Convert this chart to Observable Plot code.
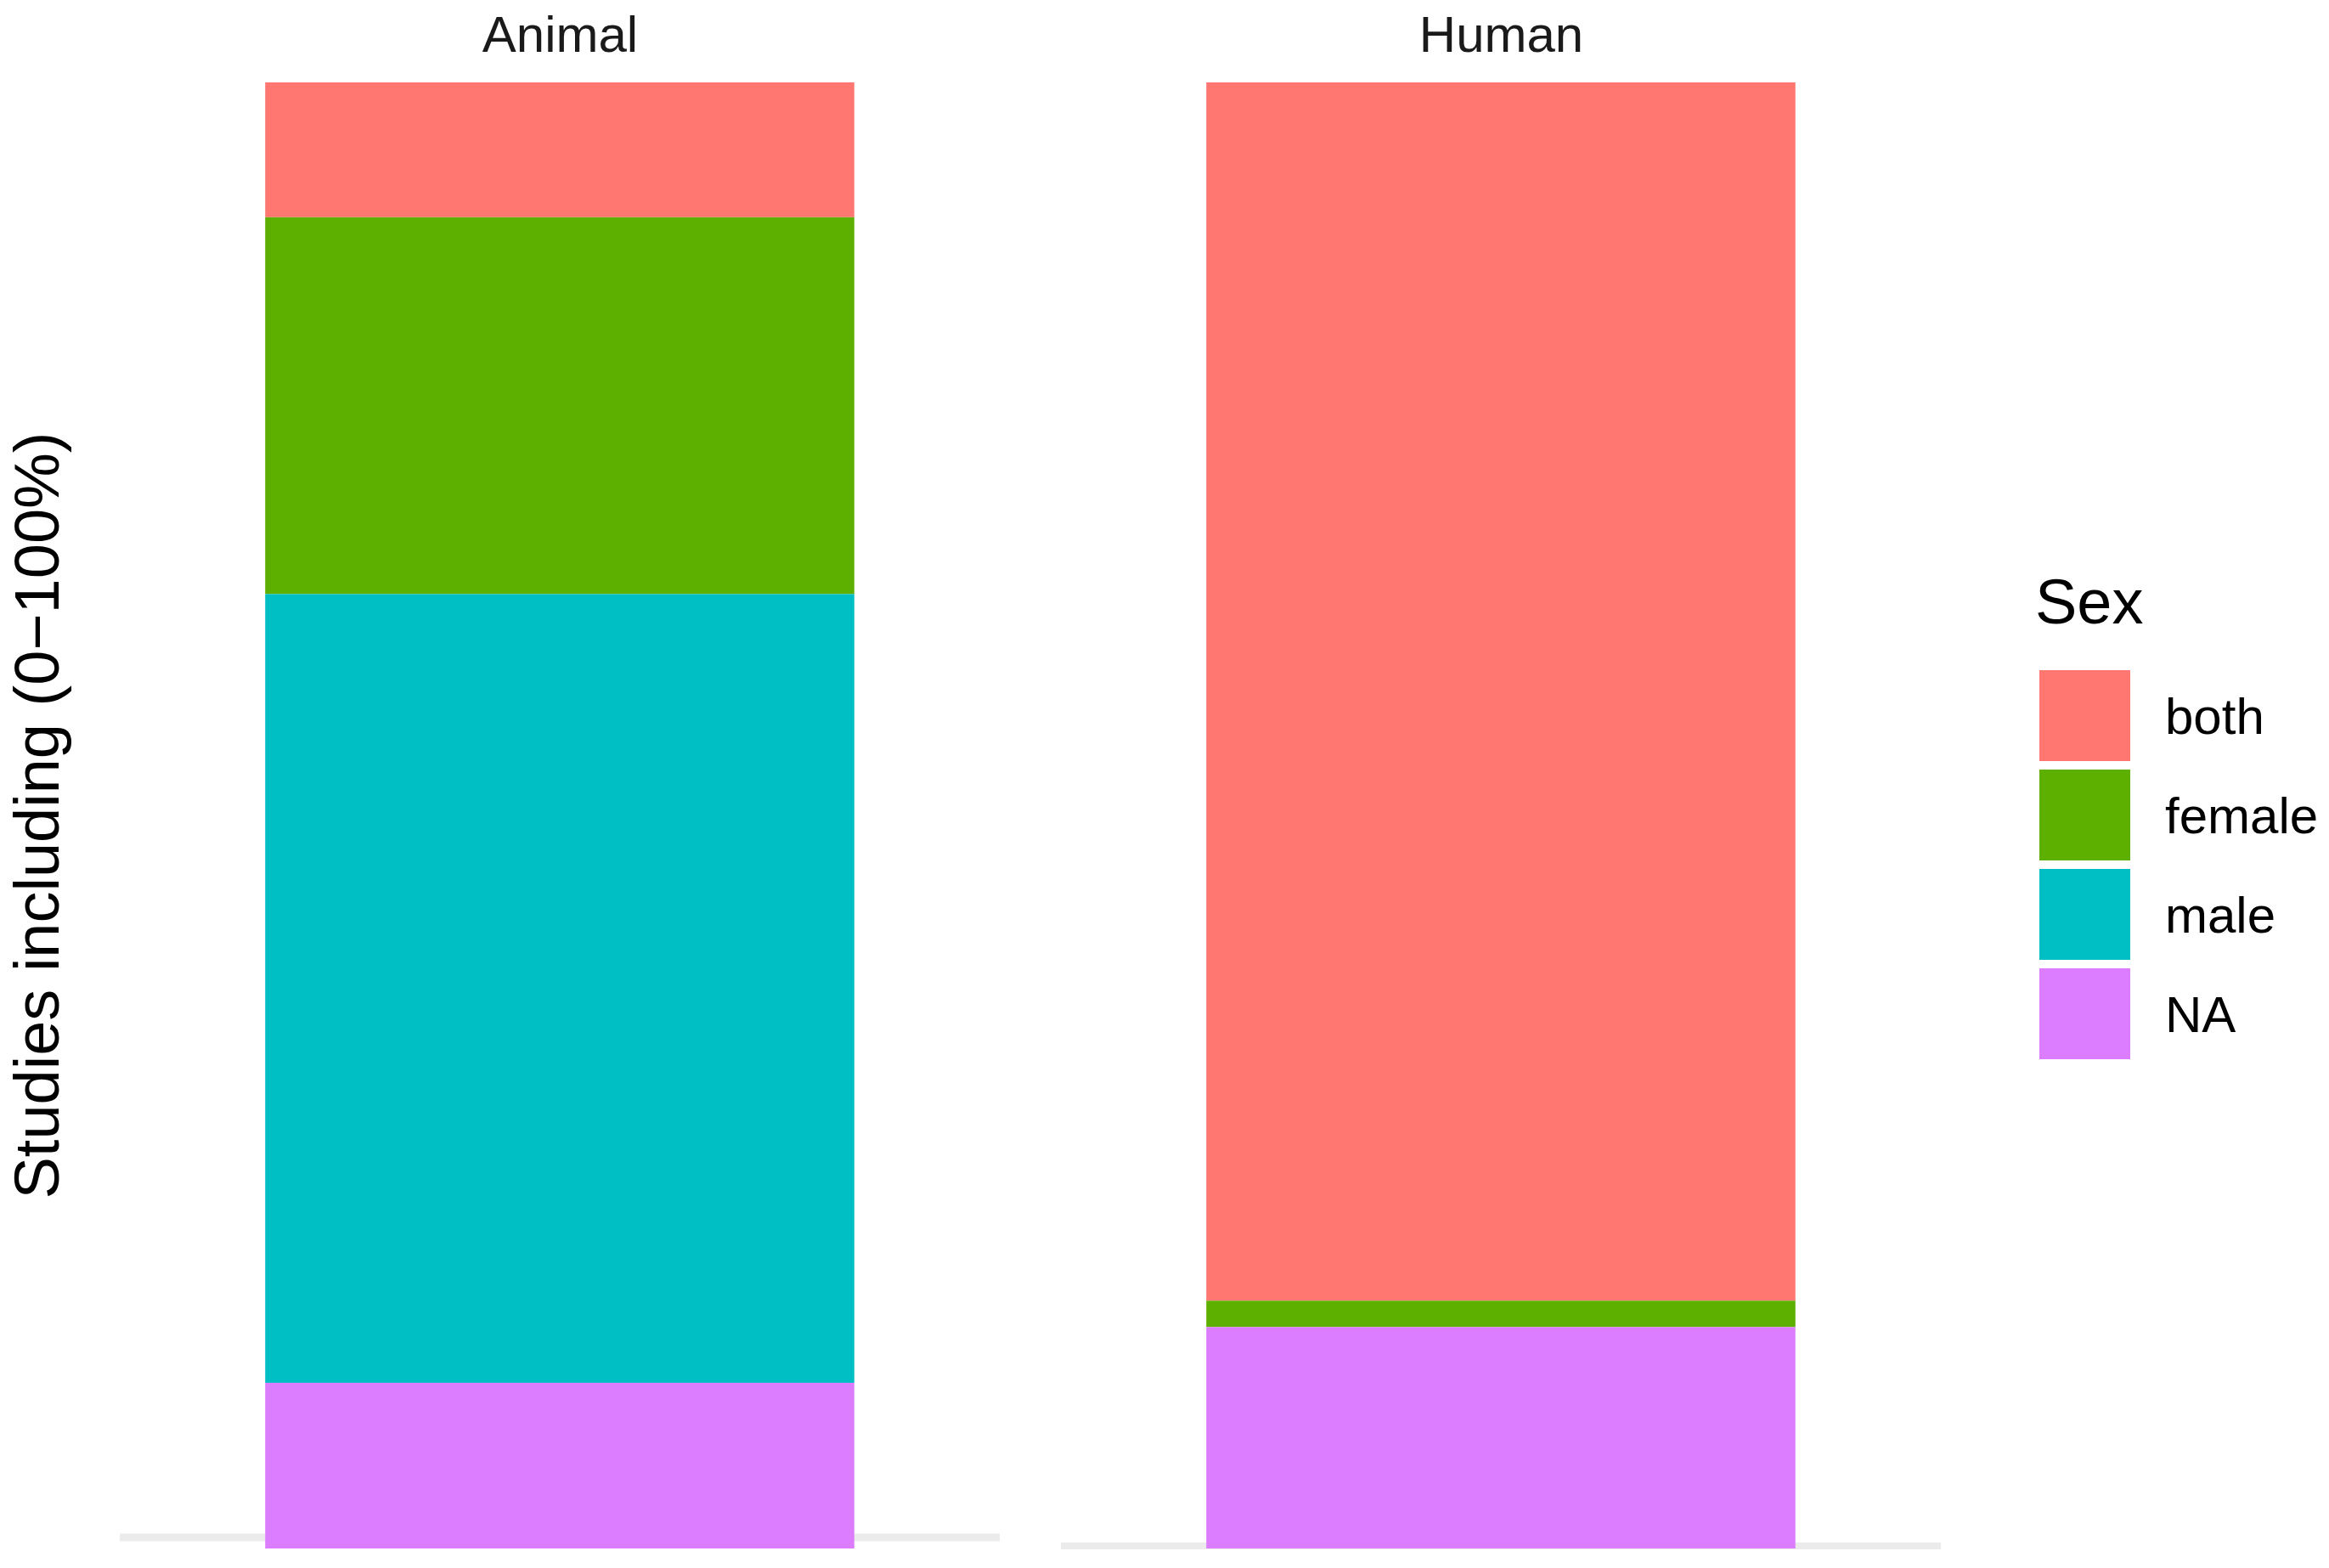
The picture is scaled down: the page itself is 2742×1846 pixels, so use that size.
<!DOCTYPE html>
<html>
<head>
<meta charset="utf-8">
<script src="https://cdn.jsdelivr.net/npm/d3@7"></script>
<script src="https://cdn.jsdelivr.net/npm/@observablehq/plot@0.6"></script>
<style>
  html, body { margin: 0; padding: 0; background: #ffffff; }
  #wrap { position: relative; width: 2742px; height: 1846px; background: #ffffff; font-family: "Liberation Sans", Arial, sans-serif; }
  #wrap > svg { position: absolute; left: 0; top: 0; }
  #overlay { position: absolute; left: 0; top: 0; pointer-events: none; }
</style>
</head>
<body>
<div id="wrap"></div>
<script>
// ---- data (percent of studies) ----
const groups = ["Animal", "Human"];
const sexes = ["both", "female", "male", "NA"];
const animalPct = [9.2, 25.7, 53.8, 11.3];
const humanPct = [83.1, 1.8, 0, 15.1];
const sexColors = ["#FF7770", "#5EB000", "#00BFC4", "#DC7CFF"];
const stackOrder = ["NA", "male", "female", "both"];
const yLabel = "Studies including (0\u2212100%)";
const legendTitle = "Sex";

const rows = [];
sexes.forEach((s, i) => rows.push({group: "Animal", sex: s, pct: animalPct[i]}));
sexes.forEach((s, i) => rows.push({group: "Human", sex: s, pct: humanPct[i]}));

const font = "'Liberation Sans', Arial, sans-serif";

const plot = Plot.plot({
  width: 2742,
  height: 1846,
  marginTop: 97,
  marginBottom: 23,
  marginLeft: 140,
  marginRight: 456,
  style: {fontFamily: font, background: "#ffffff"},
  fx: {domain: groups, paddingInner: 0.0649, paddingOuter: 0, axis: null, label: null},
  x: {domain: ["all"], padding: 0.198, round: false, axis: null, label: null},
  y: {domain: [0, 100], axis: null, label: null},
  color: {domain: sexes, range: sexColors},
  marks: [
    Plot.ruleY([0], {fx: ["Animal"], stroke: "#EBEBEB", strokeWidth: 9, dy: -13.5}),
    Plot.ruleY([0], {fx: ["Human"], stroke: "#EBEBEB", strokeWidth: 8, dy: -3.5}),
    Plot.barY(rows, Plot.stackY({
      order: stackOrder,
      fx: "group",
      x: () => "all",
      y: "pct",
      fill: "sex"
    })),
    Plot.text(groups, {
      fx: d => d,
      text: d => d,
      frameAnchor: "top",
      lineAnchor: "bottom",
      dy: -37,
      fontSize: 60,
      fill: "#1A1A1A"
    })
  ]
});

const wrap = document.getElementById("wrap");
wrap.appendChild(plot);

// ---- overlay: y-axis title and legend ----
const color = plot.scale("color");
const svg = d3.select(wrap).append("svg")
  .attr("id", "overlay")
  .attr("width", 2742)
  .attr("height", 1846)
  .style("font-family", font);

svg.append("text")
  .attr("transform", "translate(69,960) rotate(-90)")
  .attr("text-anchor", "middle")
  .attr("font-size", 74)
  .attr("fill", "#000000")
  .text(yLabel);

const lg = svg.append("g");
lg.append("text")
  .attr("x", 2396)
  .attr("y", 734)
  .attr("font-size", 74)
  .attr("fill", "#000000")
  .text(legendTitle);

const keyTop = 789, keyStep = 117, keySize = 107;
color.domain.forEach((s, i) => {
  const y0 = keyTop + i * keyStep;
  lg.append("rect")
    .attr("x", 2401)
    .attr("y", y0)
    .attr("width", keySize)
    .attr("height", keySize)
    .attr("fill", color.apply(s));
  lg.append("text")
    .attr("x", 2549)
    .attr("y", y0 + keySize / 2 + 21)
    .attr("font-size", 60)
    .attr("fill", "#000000")
    .text(s);
});
</script>
</body>
</html>
